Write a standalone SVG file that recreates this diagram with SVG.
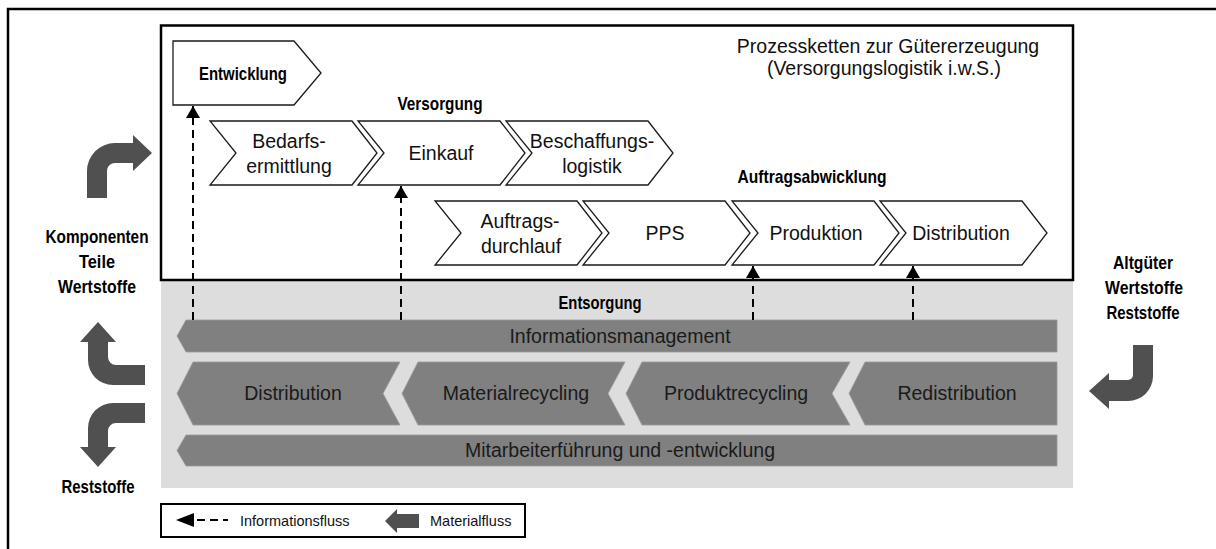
<svg xmlns="http://www.w3.org/2000/svg" width="1216" height="549" viewBox="0 0 1216 549">
  <defs>
    <style>
      .frame { fill: none; stroke: #000; stroke-width: 2.5; }
      .chev { fill: #fff; stroke: #1a1a1a; stroke-width: 1.3; stroke-linejoin: miter; }
      .band { fill: #808080; stroke: #9a9a9a; stroke-width: 0.8; }
      .mat { fill: #505050; }
      .t { font-family: "Liberation Sans", Arial, sans-serif; font-size: 19.5px; fill: #111; text-anchor: middle; }
      .tb { font-family: "Liberation Sans Narrow", "Liberation Sans", Arial, sans-serif; font-size: 19px; font-weight: bold; fill: #000; text-anchor: middle; }
      .tg { font-family: "Liberation Sans", Arial, sans-serif; font-size: 19.5px; fill: #1a1a1a; text-anchor: middle; }
      .tl { font-family: "Liberation Sans", Arial, sans-serif; font-size: 14.5px; fill: #111; }
      .info { fill: none; stroke: #000; stroke-width: 2; stroke-dasharray: 8 5; }
    </style>
    <marker id="ah" viewBox="0 0 12 14" refX="12" refY="7" markerWidth="12" markerHeight="14" markerUnits="userSpaceOnUse" orient="auto">
      <path d="M0,0 L12,7 L0,14 Z" fill="#000"/>
    </marker>
  </defs>

  <rect width="1216" height="549" fill="#fff"/>

  <!-- outer frame (continues beyond the page edge) -->
  <path class="frame" d="M8,560 L8,9 L1230,9"/>

  <!-- disposal area -->
  <rect id="entsorgung-area" x="161" y="280" width="912" height="208" fill="#dddddd"/>

  <!-- production process box -->
  <rect id="prozess-box" x="161" y="25.5" width="912" height="254.5" fill="#fff" stroke="#000" stroke-width="2.5"/>

  <g id="titel">
    <text class="t" x="888" y="53">Prozessketten zur Gütererzeugung</text>
    <text class="t" x="884" y="75">(Versorgungslogistik i.w.S.)</text>
  </g>

  <g id="entwicklung">
    <polygon class="chev" points="173,41 294,41 321,73 294,105 173,105"/>
    <text class="tb" x="243" y="80" textLength="88" lengthAdjust="spacingAndGlyphs">Entwicklung</text>
  </g>

  <text id="label-versorgung" class="tb" x="440" y="110" textLength="85" lengthAdjust="spacingAndGlyphs">Versorgung</text>

  <g id="bedarfsermittlung">
    <polygon class="chev" points="210,121 352,121 377,153 352,185 210,185 236,153"/>
    <text class="t" x="289" y="148">Bedarfs-</text>
    <text class="t" x="289" y="173">ermittlung</text>
  </g>
  <g id="einkauf">
    <polygon class="chev" points="358,121 500,121 525,153 500,185 358,185 384,153"/>
    <text class="t" x="441" y="160">Einkauf</text>
  </g>
  <g id="beschaffungslogistik">
    <polygon class="chev" points="506,121 648,121 673,153 648,185 506,185 532,153"/>
    <text class="t" x="592" y="148">Beschaffungs-</text>
    <text class="t" x="592" y="173">logistik</text>
  </g>

  <text id="label-auftragsabwicklung" class="tb" x="812" y="183" textLength="149" lengthAdjust="spacingAndGlyphs">Auftragsabwicklung</text>

  <g id="auftragsdurchlauf">
    <polygon class="chev" points="435,201 577,201 602,233 577,265 435,265 461,233"/>
    <text class="t" x="520" y="228">Auftrags-</text>
    <text class="t" x="521" y="253">durchlauf</text>
  </g>
  <g id="pps">
    <polygon class="chev" points="583,201 725,201 750,233 725,265 583,265 609,233"/>
    <text class="t" x="665" y="240">PPS</text>
  </g>
  <g id="produktion">
    <polygon class="chev" points="732,201 874,201 899,233 874,265 732,265 758,233"/>
    <text class="t" x="816" y="240">Produktion</text>
  </g>
  <g id="distribution">
    <polygon class="chev" points="880,201 1022,201 1047,233 1022,265 880,265 906,233"/>
    <text class="t" x="961" y="240">Distribution</text>
  </g>

  <text id="label-entsorgung" class="tb" x="600" y="309" textLength="83" lengthAdjust="spacingAndGlyphs">Entsorgung</text>

  <g id="informationsmanagement">
    <polygon class="band" points="177,336 186,320 1057,320 1057,352 186,352"/>
    <text class="tg" x="620" y="343">Informationsmanagement</text>
  </g>
  <g id="rueck-distribution">
    <polygon class="band" points="177,393.5 193,362 400,362 383,393.5 400,425 193,425"/>
    <text class="tg" x="293" y="400">Distribution</text>
  </g>
  <g id="materialrecycling">
    <polygon class="band" points="402,393.5 418,362 625,362 608,393.5 625,425 418,425"/>
    <text class="tg" x="516" y="400">Materialrecycling</text>
  </g>
  <g id="produktrecycling">
    <polygon class="band" points="626,393.5 642,362 850,362 832,393.5 850,425 642,425"/>
    <text class="tg" x="736" y="400">Produktrecycling</text>
  </g>
  <g id="redistribution">
    <polygon class="band" points="849,393.5 865,362 1057,362 1057,425 865,425"/>
    <text class="tg" x="957" y="400">Redistribution</text>
  </g>
  <g id="mitarbeiterfuehrung">
    <polygon class="band" points="177,450.5 186,435 1057,435 1057,466 186,466"/>
    <text class="tg" x="620" y="457">Mitarbeiterführung und -entwicklung</text>
  </g>

  <!-- information flows -->
  <g id="informationsfluesse">
    <line class="info" x1="193" y1="320" x2="193" y2="106" marker-end="url(#ah)"/>
    <line class="info" x1="401" y1="320" x2="401" y2="186" marker-end="url(#ah)"/>
    <line class="info" x1="753" y1="320" x2="753" y2="266" marker-end="url(#ah)"/>
    <line class="info" x1="913" y1="320" x2="913" y2="266" marker-end="url(#ah)"/>
  </g>

  <!-- material flows -->
  <g id="materialfluesse">
    <path class="mat" d="M87,198 L87,171 A28,28 0 0 1 115,143 L133,143 L133,135 L152,153 L133,171 L133,163 L115,163 A8,8 0 0 0 107,171 L107,198 Z"/>
    <path class="mat" d="M98,322 L116,342 L108,342 L108,357 A8,8 0 0 0 116,365 L145,365 L145,385 L113,385 A25,25 0 0 1 88,360 L88,342 L80,342 Z"/>
    <path class="mat" d="M145,403 L113,403 A25,25 0 0 0 88,428 L88,447 L80,447 L98,467 L116,447 L108,447 L108,431 A8,8 0 0 1 116,423 L145,423 Z"/>
    <path class="mat" d="M1133,345 L1153,345 L1153,376 A25,25 0 0 1 1128,401 L1109,401 L1109,409 L1089,391 L1109,373 L1109,380 L1128,380 A5,5 0 0 0 1133,375 Z"/>
  </g>

  <g id="label-links">
    <text class="tb" x="97" y="243" textLength="103" lengthAdjust="spacingAndGlyphs">Komponenten</text>
    <text class="tb" x="97" y="268" textLength="36" lengthAdjust="spacingAndGlyphs">Teile</text>
    <text class="tb" x="97" y="293" textLength="78" lengthAdjust="spacingAndGlyphs">Wertstoffe</text>
  </g>
  <text id="label-reststoffe-links" class="tb" x="98" y="493" textLength="73" lengthAdjust="spacingAndGlyphs">Reststoffe</text>
  <g id="label-rechts">
    <text class="tb" x="1143" y="269" textLength="60" lengthAdjust="spacingAndGlyphs">Altgüter</text>
    <text class="tb" x="1144" y="294" textLength="78" lengthAdjust="spacingAndGlyphs">Wertstoffe</text>
    <text class="tb" x="1143" y="319" textLength="73" lengthAdjust="spacingAndGlyphs">Reststoffe</text>
  </g>

  <!-- legend -->
  <g id="legende">
    <rect x="161" y="504" width="364" height="33" fill="#fff" stroke="#000" stroke-width="2"/>
    <polygon points="176,520 194,513 194,527" fill="#000"/>
    <line x1="197" y1="520" x2="228" y2="520" stroke="#000" stroke-width="2" stroke-dasharray="8 5"/>
    <text class="tl" x="240" y="526">Informationsfluss</text>
    <polygon class="mat" points="385,521 397,509 397,514 419,514 419,528 397,528 397,533"/>
    <text class="tl" x="430" y="526">Materialfluss</text>
  </g>
</svg>
